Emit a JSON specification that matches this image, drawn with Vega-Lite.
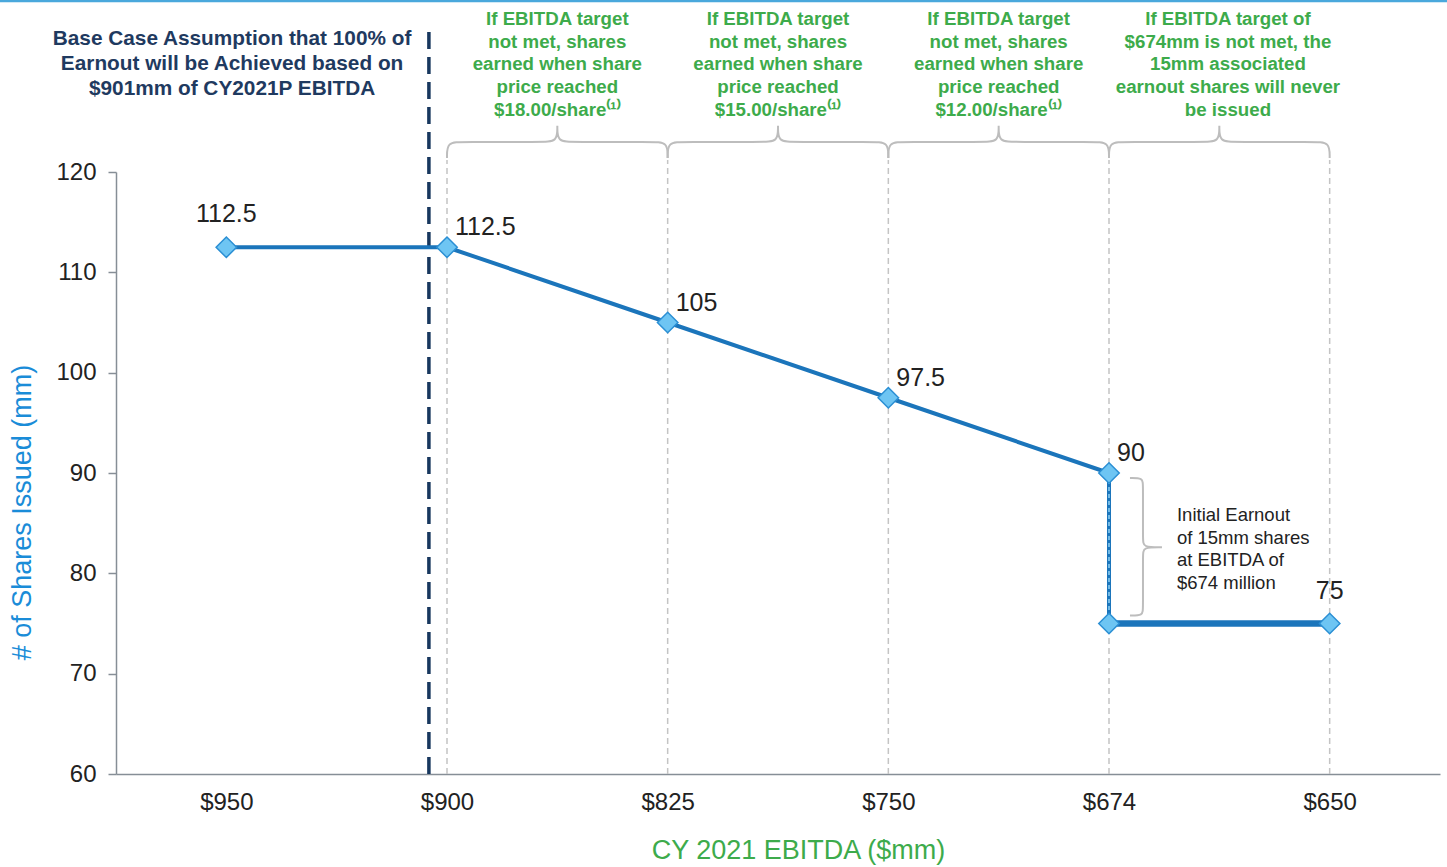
{
  "$schema": "https://vega.github.io/schema/vega-lite/v6.json",
  "autosize": "none",
  "width": 1324,
  "height": 602,
  "padding": {"left": 116, "top": 172, "right": 7, "bottom": 93},
  "background": "white",
  "config": {
    "font": "Liberation Sans",
    "view": {"stroke": null},
    "axis": {"grid": false, "domainColor": "#868e96", "domainWidth": 1.5, "labelColor": "#222222", "labelFont": "Liberation Sans"}
  },
  "datasets": {
    "pts": [
      {"seq": 0, "i": 0, "ebitda": "$950", "shares": 112.5},
      {"seq": 1, "i": 1, "ebitda": "$900", "shares": 112.5},
      {"seq": 2, "i": 2, "ebitda": "$825", "shares": 105},
      {"seq": 3, "i": 3, "ebitda": "$750", "shares": 97.5},
      {"seq": 4, "i": 4, "ebitda": "$674", "shares": 90},
      {"seq": 5, "i": 4, "ebitda": "$674", "shares": 75},
      {"seq": 6, "i": 5, "ebitda": "$650", "shares": 75}
    ],
    "braces": [
      {"b": "b1", "k": 0, "x": 1, "y": 121.4},
      {"b": "b1", "k": 1, "x": 1, "y": 123.0},
      {"b": "b1", "k": 2, "x": 1.07, "y": 123.0},
      {"b": "b1", "k": 3, "x": 1.43, "y": 123.0},
      {"b": "b1", "k": 4, "x": 1.5, "y": 123.0},
      {"b": "b1", "k": 5, "x": 1.5, "y": 124.6},
      {"b": "b1", "k": 6, "x": 1.5, "y": 124.6},
      {"b": "b1", "k": 7, "x": 1.5, "y": 124.6},
      {"b": "b1", "k": 8, "x": 1.5, "y": 123.0},
      {"b": "b1", "k": 9, "x": 1.57, "y": 123.0},
      {"b": "b1", "k": 10, "x": 1.93, "y": 123.0},
      {"b": "b1", "k": 11, "x": 2, "y": 123.0},
      {"b": "b1", "k": 12, "x": 2, "y": 121.4},
      {"b": "b2", "k": 0, "x": 2, "y": 121.4},
      {"b": "b2", "k": 1, "x": 2, "y": 123.0},
      {"b": "b2", "k": 2, "x": 2.07, "y": 123.0},
      {"b": "b2", "k": 3, "x": 2.43, "y": 123.0},
      {"b": "b2", "k": 4, "x": 2.5, "y": 123.0},
      {"b": "b2", "k": 5, "x": 2.5, "y": 124.6},
      {"b": "b2", "k": 6, "x": 2.5, "y": 124.6},
      {"b": "b2", "k": 7, "x": 2.5, "y": 124.6},
      {"b": "b2", "k": 8, "x": 2.5, "y": 123.0},
      {"b": "b2", "k": 9, "x": 2.57, "y": 123.0},
      {"b": "b2", "k": 10, "x": 2.93, "y": 123.0},
      {"b": "b2", "k": 11, "x": 3, "y": 123.0},
      {"b": "b2", "k": 12, "x": 3, "y": 121.4},
      {"b": "b3", "k": 0, "x": 3, "y": 121.4},
      {"b": "b3", "k": 1, "x": 3, "y": 123.0},
      {"b": "b3", "k": 2, "x": 3.07, "y": 123.0},
      {"b": "b3", "k": 3, "x": 3.43, "y": 123.0},
      {"b": "b3", "k": 4, "x": 3.5, "y": 123.0},
      {"b": "b3", "k": 5, "x": 3.5, "y": 124.6},
      {"b": "b3", "k": 6, "x": 3.5, "y": 124.6},
      {"b": "b3", "k": 7, "x": 3.5, "y": 124.6},
      {"b": "b3", "k": 8, "x": 3.5, "y": 123.0},
      {"b": "b3", "k": 9, "x": 3.57, "y": 123.0},
      {"b": "b3", "k": 10, "x": 3.93, "y": 123.0},
      {"b": "b3", "k": 11, "x": 4, "y": 123.0},
      {"b": "b3", "k": 12, "x": 4, "y": 121.4},
      {"b": "b4", "k": 0, "x": 4, "y": 121.4},
      {"b": "b4", "k": 1, "x": 4, "y": 123.0},
      {"b": "b4", "k": 2, "x": 4.07, "y": 123.0},
      {"b": "b4", "k": 3, "x": 4.43, "y": 123.0},
      {"b": "b4", "k": 4, "x": 4.5, "y": 123.0},
      {"b": "b4", "k": 5, "x": 4.5, "y": 124.6},
      {"b": "b4", "k": 6, "x": 4.5, "y": 124.6},
      {"b": "b4", "k": 7, "x": 4.5, "y": 124.6},
      {"b": "b4", "k": 8, "x": 4.5, "y": 123.0},
      {"b": "b4", "k": 9, "x": 4.57, "y": 123.0},
      {"b": "b4", "k": 10, "x": 4.93, "y": 123.0},
      {"b": "b4", "k": 11, "x": 5, "y": 123.0},
      {"b": "b4", "k": 12, "x": 5, "y": 121.4},
      {"b": "b5", "k": 0, "x": 4.095, "y": 89.5},
      {"b": "b5", "k": 1, "x": 4.154, "y": 89.5},
      {"b": "b5", "k": 2, "x": 4.154, "y": 88.8},
      {"b": "b5", "k": 3, "x": 4.154, "y": 83.3},
      {"b": "b5", "k": 4, "x": 4.154, "y": 82.6},
      {"b": "b5", "k": 5, "x": 4.24, "y": 82.6},
      {"b": "b5", "k": 6, "x": 4.24, "y": 82.6},
      {"b": "b5", "k": 7, "x": 4.24, "y": 82.6},
      {"b": "b5", "k": 8, "x": 4.154, "y": 82.6},
      {"b": "b5", "k": 9, "x": 4.154, "y": 81.9},
      {"b": "b5", "k": 10, "x": 4.154, "y": 76.5},
      {"b": "b5", "k": 11, "x": 4.154, "y": 75.8},
      {"b": "b5", "k": 12, "x": 4.095, "y": 75.8}
    ],
    "green": [
      {"x": 1.5, "y": 136.15, "t": "If EBITDA target\nnot met, shares\nearned when share\nprice reached\n$18.00/share⁽¹⁾"},
      {"x": 2.5, "y": 136.15, "t": "If EBITDA target\nnot met, shares\nearned when share\nprice reached\n$15.00/share⁽¹⁾"},
      {"x": 3.5, "y": 136.15, "t": "If EBITDA target\nnot met, shares\nearned when share\nprice reached\n$12.00/share⁽¹⁾"},
      {"x": 4.539, "y": 136.15, "t": "If EBITDA target of\n$674mm is not met, the\n15mm associated\nearnout shares will never\nbe issued"}
    ],
    "navy": [
      {"x": 0.026, "y": 134.23, "t": "Base Case Assumption that 100% of\nEarnout will be Achieved based on\n$901mm of CY2021P EBITDA"}
    ],
    "note": [
      {"x": 4.308, "y": 86.7, "t": "Initial Earnout\nof 15mm shares\nat EBITDA of\n$674 million"}
    ],
    "guides": [{"i": 1}, {"i": 2}, {"i": 3}, {"i": 4}, {"i": 5}],
    "base": [{"x": 0.918, "label": "Base case $901mm"}]
  },
  "layer": [
    {
      "data": {"values": [{"x0": -1.03, "x1": 5.54, "y": 137.07}]},
      "mark": {"type": "rule", "color": "#4aa8dc", "strokeWidth": 3, "clip": false},
      "encoding": {
        "x": {"field": "x0", "type": "quantitative", "scale": {"domain": [-0.5, 5.5], "nice": false, "zero": false}},
        "x2": {"field": "x1"},
        "y": {"field": "y", "type": "quantitative", "scale": {"domain": [60, 120], "nice": false, "zero": false}}
      }
    },
    {
      "data": {"name": "guides"},
      "mark": {"type": "rule", "color": "#c4c4c4", "strokeWidth": 1.5, "strokeDash": [6, 4], "clip": false},
      "encoding": {
        "x": {"field": "i", "type": "quantitative"},
        "y": {"datum": 60},
        "y2": {"datum": 121.2}
      }
    },
    {
      "data": {"name": "base"},
      "mark": {"type": "rule", "color": "#17375e", "strokeWidth": 3.5, "strokeDash": [17, 8], "clip": false},
      "encoding": {
        "x": {"field": "x", "type": "quantitative"},
        "y": {"datum": 60},
        "y2": {"datum": 134.2}
      }
    },
    {
      "data": {"name": "braces"},
      "mark": {"type": "line", "color": "#bdbdbd", "strokeWidth": 2, "interpolate": "basis", "clip": false},
      "encoding": {
        "x": {"field": "x", "type": "quantitative"},
        "y": {"field": "y", "type": "quantitative"},
        "detail": {"field": "b"},
        "order": {"field": "k", "type": "quantitative"}
      }
    },
    {
      "data": {"name": "pts"},
      "mark": {"type": "line", "color": "#1b75bb", "strokeWidth": 4, "clip": false},
      "encoding": {
        "x": {"field": "i", "type": "quantitative"},
        "y": {"field": "shares", "type": "quantitative"},
        "order": {"field": "seq", "type": "quantitative"}
      }
    },
    {
      "data": {"name": "pts"},
      "transform": [{"filter": "datum.seq >= 5"}],
      "mark": {"type": "line", "color": "#1b75bb", "strokeWidth": 6.5, "clip": false},
      "encoding": {
        "x": {"field": "i", "type": "quantitative"},
        "y": {"field": "shares", "type": "quantitative"},
        "order": {"field": "seq", "type": "quantitative"}
      }
    },
    {
      "data": {"name": "pts"},
      "transform": [{"filter": "datum.seq == 4 || datum.seq == 5"}],
      "mark": {"type": "line", "color": "#8fd0f4", "strokeWidth": 1.5, "strokeDash": [4, 3], "clip": false},
      "encoding": {
        "x": {"field": "i", "type": "quantitative"},
        "y": {"field": "shares", "type": "quantitative"},
        "order": {"field": "seq", "type": "quantitative"}
      }
    },
    {
      "data": {"name": "pts"},
      "mark": {"type": "point", "shape": "diamond", "size": 420, "filled": true, "fill": "#6ec5f3", "stroke": "#2b8fd4", "strokeWidth": 1.5, "opacity": 1, "clip": false},
      "encoding": {
        "x": {
          "field": "i", "type": "quantitative",
          "axis": {
            "values": [0, 1, 2, 3, 4, 5],
            "labelExpr": "['$950','$900','$825','$750','$674','$650'][datum.value]",
            "ticks": false,
            "labelFontSize": 24,
            "labelPadding": 16,
            "title": "CY 2021 EBITDA ($mm)",
            "titleColor": "#3dab4b",
            "titleFontSize": 27,
            "titleFontWeight": "normal",
            "titleX": 682,
            "titleY": 76,
            "titleBaseline": "middle",
            "titleAnchor": null
          }
        },
        "y": {
          "field": "shares", "type": "quantitative",
          "axis": {
            "values": [60, 70, 80, 90, 100, 110, 120],
            "tickSize": 8,
            "tickColor": "#868e96",
            "tickWidth": 1.5,
            "labelFontSize": 24,
            "labelPadding": 12,
            "title": "# of Shares Issued (mm)",
            "titleColor": "#1a8cd8",
            "titleFontSize": 27,
            "titleFontWeight": "normal",
            "titleAngle": -90,
            "titleX": -94,
            "titleY": 340,
            "titleAlign": "center",
            "titleBaseline": "middle"
          }
        }
      }
    },
    {
      "data": {"name": "pts"},
      "transform": [{"filter": "datum.seq == 0 || datum.seq == 6"}],
      "mark": {"type": "text", "fontSize": 25, "color": "#222222", "align": "center", "baseline": "middle", "dy": -33, "clip": false},
      "encoding": {
        "x": {"field": "i", "type": "quantitative"},
        "y": {"field": "shares", "type": "quantitative"},
        "text": {"field": "shares", "type": "nominal"}
      }
    },
    {
      "data": {"name": "pts"},
      "transform": [{"filter": "datum.seq >= 1 && datum.seq <= 4"}],
      "mark": {"type": "text", "fontSize": 25, "color": "#222222", "align": "left", "baseline": "middle", "dx": 8, "dy": -20, "clip": false},
      "encoding": {
        "x": {"field": "i", "type": "quantitative"},
        "y": {"field": "shares", "type": "quantitative"},
        "text": {"field": "shares", "type": "nominal"}
      }
    },
    {
      "data": {"name": "green"},
      "mark": {"type": "text", "fontSize": 18.7, "fontWeight": "bold", "color": "#3dab4b", "align": "center", "baseline": "top", "lineBreak": "\n", "lineHeight": 22.75, "clip": false},
      "encoding": {
        "x": {"field": "x", "type": "quantitative"},
        "y": {"field": "y", "type": "quantitative"},
        "text": {"field": "t", "type": "nominal"}
      }
    },
    {
      "data": {"name": "navy"},
      "mark": {"type": "text", "fontSize": 20.8, "fontWeight": "bold", "color": "#1f3a60", "align": "center", "baseline": "top", "lineBreak": "\n", "lineHeight": 25, "clip": false},
      "encoding": {
        "x": {"field": "x", "type": "quantitative"},
        "y": {"field": "y", "type": "quantitative"},
        "text": {"field": "t", "type": "nominal"}
      }
    },
    {
      "data": {"name": "note"},
      "mark": {"type": "text", "fontSize": 18.5, "color": "#222222", "align": "left", "baseline": "top", "lineBreak": "\n", "lineHeight": 22.5, "clip": false},
      "encoding": {
        "x": {"field": "x", "type": "quantitative"},
        "y": {"field": "y", "type": "quantitative"},
        "text": {"field": "t", "type": "nominal"}
      }
    }
  ]
}
